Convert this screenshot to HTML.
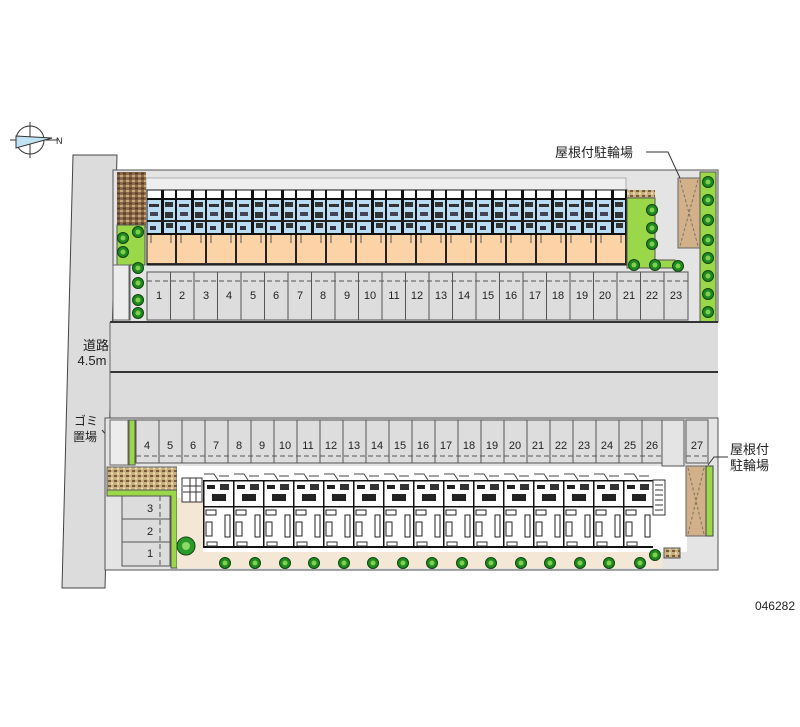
<!DOCTYPE html>
<html><head><meta charset="utf-8"><style>
html,body{margin:0;padding:0;background:#fff}
svg{display:block}
text{font-family:"Liberation Sans","Noto Sans CJK JP",sans-serif;fill:#222}
</style></head><body>
<svg width="800" height="727" viewBox="0 0 800 727" xmlns="http://www.w3.org/2000/svg">
<defs>
<pattern id="tu" x="147" y="190" width="30" height="45" patternUnits="userSpaceOnUse">
<rect width="30" height="45" fill="#b9dcf2"/>
<rect x="0" y="0" width="30" height="8" fill="#fff"/>
<rect x="14" y="0" width="3" height="45" fill="#111"/>
<rect x="28" y="0" width="2" height="45" fill="#111"/>
<rect x="0" y="8" width="30" height="2" fill="#111"/>
<rect x="2" y="14" width="10" height="3" fill="#333"/>
<rect x="18" y="12" width="8" height="5" fill="#333"/>
<rect x="3" y="22" width="8" height="4" fill="#445"/>
<rect x="18" y="22" width="8" height="6" fill="#333"/>
<rect x="0" y="30" width="30" height="2" fill="#222"/>
<rect x="19" y="33" width="7" height="5" fill="#333"/>
<rect x="3" y="36" width="6" height="4" fill="#334"/>
<rect x="0" y="43" width="30" height="2" fill="#111"/>
</pattern>
<pattern id="to" x="147" y="235" width="30" height="30" patternUnits="userSpaceOnUse">
<rect width="30" height="30" fill="#fbd3a6"/>
<rect x="28" y="0" width="2" height="30" fill="#222"/>
<rect x="0" y="28" width="30" height="2" fill="#333"/>
<path d="M4 0v8 M24 0v8" stroke="#555" fill="none"/>
</pattern>
<pattern id="bu" x="203" y="470" width="30" height="82" patternUnits="userSpaceOnUse">
<rect width="30" height="82" fill="#fff"/>
<path d="M1 4h10l4 6 M16 6h10" stroke="#444" fill="none"/>
<rect x="0" y="10" width="30" height="1.5" fill="#111"/>
<rect x="4" y="15" width="8" height="4" fill="#222"/>
<rect x="17" y="14" width="9" height="6" fill="#333"/>
<rect x="9" y="24" width="14" height="7" fill="#222"/>
<rect x="0" y="36" width="30" height="1.5" fill="#111"/>
<rect x="3" y="40" width="10" height="5" fill="none" stroke="#222"/>
<rect x="22" y="45" width="5" height="22" fill="none" stroke="#222"/>
<rect x="3" y="52" width="6" height="14" fill="none" stroke="#222"/>
<rect x="0" y="10" width="1.5" height="68" fill="#111"/>
<rect x="0" y="76" width="30" height="2" fill="#111"/>
<rect x="4" y="72" width="10" height="4" fill="none" stroke="#333"/>
</pattern>
<pattern id="br" width="6" height="5" patternUnits="userSpaceOnUse">
<rect width="6" height="5" fill="#8a6a48"/><rect x="0" y="0" width="3" height="2" fill="#c8a878"/><rect x="3" y="2.5" width="3" height="2" fill="#5a3a28"/>
</pattern>
<pattern id="br2" width="6" height="5" patternUnits="userSpaceOnUse">
<rect width="6" height="5" fill="#c8b080"/><rect x="0" y="0" width="3" height="2" fill="#7a5a38"/><rect x="3" y="2.5" width="2" height="2" fill="#efe0b0"/>
</pattern>
<g id="tree"><circle r="5.5" fill="#1f8a1f" stroke="#114411" stroke-width="1"/><circle r="2.5" fill="#7fd04f"/></g>
</defs>

<g transform="translate(30,140)">
<circle r="14" fill="none" stroke="#333"/>
<path d="M-20 0h48 M0 -18v36" stroke="#333"/>
<path d="M-14 -4 L22 -2 L-14 8 Z" fill="#bfe3f3" stroke="#333"/>
<text x="26" y="4" font-size="9">N</text>
</g>

<polygon points="73,155 117,155 105,588 62,588" fill="#dcdcdc" stroke="#444"/>
<text x="96" y="350" font-size="13" text-anchor="middle">道路</text>
<text x="92" y="365" font-size="13" text-anchor="middle">4.5m</text>
<text x="86" y="425" font-size="12" text-anchor="middle">ゴミ</text>
<text x="85" y="441" font-size="12" text-anchor="middle">置場</text>
<path d="M102 430 L112 442" stroke="#333"/>

<rect x="113" y="170" width="605" height="152" fill="#e4e4e4" stroke="#555"/>
<rect x="146" y="178" width="480" height="12" fill="#eee" stroke="#888" stroke-width=".6"/>
<rect x="117" y="172" width="29" height="56" fill="url(#br)"/>
<path d="M117 225h28v40h-15v55h-13z" fill="#9ad84a" stroke="#555"/>
<rect x="113" y="265" width="16" height="55" fill="#ececec" stroke="#666"/>
<rect x="147" y="190" width="480" height="45" fill="url(#tu)"/>
<rect x="147" y="235" width="480" height="30" fill="url(#to)"/>
<rect x="147" y="190" width="480" height="75" fill="none" stroke="#111"/>
<rect x="627" y="190" width="28" height="8" fill="url(#br2)"/>
<path d="M627 198h28v62h20v8h-48z" fill="#9ad84a" stroke="#555"/>
<rect x="678" y="178" width="22" height="70" fill="#d2b08a" stroke="#666"/>
<path d="M680 180l18 66 M698 180l-18 66" stroke="#776" stroke-dasharray="3,2" fill="none"/>
<rect x="700" y="172" width="16" height="150" fill="#9ad84a" stroke="#555"/>
<g>
<use href="#tree" x="123" y="238"/><use href="#tree" x="123" y="252"/><use href="#tree" x="138" y="232"/>
<use href="#tree" x="138" y="268"/><use href="#tree" x="138" y="283"/><use href="#tree" x="138" y="300"/><use href="#tree" x="138" y="313"/>
<use href="#tree" x="652" y="210"/><use href="#tree" x="652" y="228"/><use href="#tree" x="652" y="244"/><use href="#tree" x="634" y="265"/><use href="#tree" x="655" y="265"/><use href="#tree" x="678" y="266"/>
<use href="#tree" x="708" y="182"/><use href="#tree" x="708" y="200"/><use href="#tree" x="708" y="220"/><use href="#tree" x="708" y="240"/><use href="#tree" x="708" y="258"/><use href="#tree" x="708" y="276"/><use href="#tree" x="708" y="294"/><use href="#tree" x="708" y="312"/>
</g>
<text x="555" y="157" font-size="13">屋根付駐輪場</text>
<path d="M646 152h22l12 26" stroke="#333" fill="none"/>

<rect x="147" y="272" width="541" height="48" fill="#dddddd" stroke="#555"/>
<g stroke="#555">
<path d="M170.5 272v48 M194 272v48 M217.5 272v48 M241 272v48 M264.5 272v48 M288 272v48 M311.5 272v48 M335 272v48 M358.5 272v48 M382 272v48 M405.5 272v48 M429 272v48 M452.5 272v48 M476 272v48 M499.5 272v48 M523 272v48 M546.5 272v48 M570 272v48 M593.5 272v48 M617 272v48 M640.5 272v48 M664 272v48"/>
<path d="M147 281h541" stroke-dasharray="5,3"/>
</g>
<g font-size="11" text-anchor="middle">
<text x="159" y="299">1</text><text x="182" y="299">2</text><text x="206" y="299">3</text><text x="229" y="299">4</text><text x="253" y="299">5</text><text x="276" y="299">6</text><text x="300" y="299">7</text><text x="323" y="299">8</text><text x="347" y="299">9</text><text x="370" y="299">10</text><text x="394" y="299">11</text><text x="417" y="299">12</text><text x="441" y="299">13</text><text x="464" y="299">14</text><text x="488" y="299">15</text><text x="511" y="299">16</text><text x="535" y="299">17</text><text x="558" y="299">18</text><text x="582" y="299">19</text><text x="605" y="299">20</text><text x="629" y="299">21</text><text x="652" y="299">22</text><text x="676" y="299">23</text>
</g>

<rect x="110" y="322" width="608" height="96" fill="#dcdcdc"/>
<path d="M110 322h608 M110 372h608" stroke="#333" stroke-width="2"/>
<path d="M110 322v96" stroke="#666"/>

<rect x="105" y="418" width="613" height="152" fill="#e4e4e4" stroke="#555"/>
<rect x="110" y="420" width="18" height="45" fill="#ececec" stroke="#666"/>
<rect x="129" y="420" width="6" height="45" fill="#9ad84a" stroke="#555"/>
<rect x="107" y="467" width="70" height="23" fill="url(#br2)" stroke="#666"/>
<path d="M107 490h70v78h-6v-72h-64z" fill="#9ad84a" stroke="#555"/>
<rect x="122" y="496" width="48" height="70" fill="#dcdcdc" stroke="#555"/>
<path d="M122 519h48 M122 542h48" stroke="#555"/>
<path d="M160 496v70" stroke="#555" stroke-dasharray="5,3"/>
<g font-size="11" text-anchor="middle"><text x="150" y="512">3</text><text x="150" y="535">2</text><text x="150" y="557">1</text></g>
<rect x="177" y="466" width="510" height="86" fill="#fff"/>
<rect x="177" y="552" width="485" height="16" fill="#f5e7d6"/>
<rect x="177" y="498" width="26" height="54" fill="#f5e7d6"/>
<rect x="182" y="478" width="20" height="24" fill="#fff" stroke="#333"/>
<path d="M183 486h18 M183 492h18 M190 478v24 M196 478v24" stroke="#333"/>
<circle cx="186" cy="546" r="9" fill="#2a9a2a" stroke="#114411" stroke-width="1"/>
<circle cx="186" cy="546" r="4" fill="#8fd86a"/>
<rect x="203" y="470" width="450" height="82" fill="url(#bu)"/>
<rect x="653" y="480" width="12" height="35" fill="#fff" stroke="#333"/>
<path d="M655 485h8 M655 490h8 M655 495h8 M655 500h8 M655 505h8 M655 510h8" stroke="#333"/>
<rect x="664" y="548" width="16" height="10" fill="url(#br2)" stroke="#555"/>
<rect x="686" y="466" width="20" height="70" fill="#d2b08a" stroke="#666"/>
<path d="M688 468l16 66 M704 468l-16 66" stroke="#776" stroke-dasharray="3,2" fill="none"/>
<rect x="706" y="466" width="7" height="70" fill="#9ad84a" stroke="#444"/>
<g>
<use href="#tree" x="225" y="563"/><use href="#tree" x="255" y="563"/><use href="#tree" x="285" y="563"/><use href="#tree" x="314" y="563"/><use href="#tree" x="344" y="563"/><use href="#tree" x="373" y="563"/><use href="#tree" x="403" y="563"/><use href="#tree" x="432" y="563"/><use href="#tree" x="462" y="563"/><use href="#tree" x="491" y="563"/><use href="#tree" x="521" y="563"/><use href="#tree" x="550" y="563"/><use href="#tree" x="580" y="563"/><use href="#tree" x="609" y="563"/><use href="#tree" x="640" y="563"/><use href="#tree" x="655" y="555"/>
</g>

<rect x="136" y="420" width="526" height="43" fill="#dddddd" stroke="#555"/>
<path d="M159 420v43 M182 420v43 M205 420v43 M228 420v43 M251 420v43 M274 420v43 M297 420v43 M320 420v43 M343 420v43 M366 420v43 M389 420v43 M412 420v43 M435 420v43 M458 420v43 M481 420v43 M504 420v43 M527 420v43 M550 420v43 M573 420v43 M596 420v43 M619 420v43 M642 420v43" stroke="#555"/>
<path d="M136 456h526" stroke="#555" stroke-dasharray="5,3"/>
<rect x="662" y="420" width="22" height="46" fill="#e4e4e4" stroke="#555"/>
<rect x="686" y="420" width="22" height="43" fill="#dddddd" stroke="#555"/>
<path d="M686 456h22" stroke="#555" stroke-dasharray="5,3"/>
<g font-size="11" text-anchor="middle">
<text x="147" y="449">4</text><text x="170" y="449">5</text><text x="193" y="449">6</text><text x="216" y="449">7</text><text x="239" y="449">8</text><text x="262" y="449">9</text><text x="285" y="449">10</text><text x="308" y="449">11</text><text x="331" y="449">12</text><text x="354" y="449">13</text><text x="377" y="449">14</text><text x="400" y="449">15</text><text x="423" y="449">16</text><text x="446" y="449">17</text><text x="469" y="449">18</text><text x="492" y="449">19</text><text x="515" y="449">20</text><text x="538" y="449">21</text><text x="561" y="449">22</text><text x="584" y="449">23</text><text x="607" y="449">24</text><text x="630" y="449">25</text><text x="652" y="449">26</text><text x="697" y="449">27</text>
</g>
<text x="730" y="454" font-size="13">屋根付</text>
<text x="730" y="470" font-size="13">駐輪場</text>
<path d="M728 457h-14l-6 8" stroke="#333" fill="none"/>

<text x="795" y="610" font-size="12" text-anchor="end">046282</text>
</svg>
</body></html>
